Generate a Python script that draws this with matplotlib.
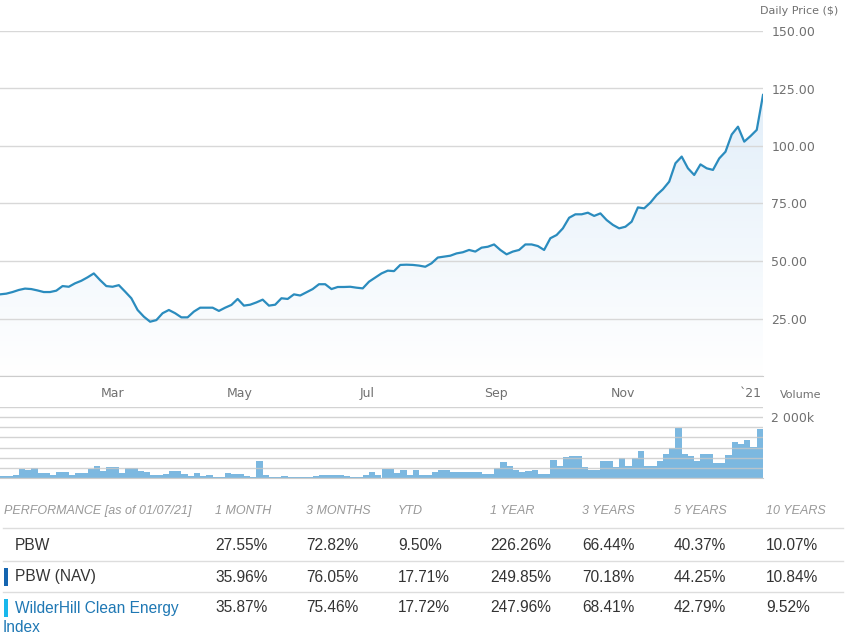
import numpy as np
import pandas as pd
import matplotlib
matplotlib.use('Agg')
import matplotlib.pyplot as plt
import matplotlib.dates as mdates
from matplotlib.colors import LinearSegmentedColormap
from matplotlib.lines import Line2D
from matplotlib.patches import Rectangle

# one reading every 3 calendar days, 07 Jan 2020 .. 07 Jan 2021
dates = pd.date_range('2020-01-07', '2021-01-07', freq='3D')

price = [35.5, 35.8, 36.5, 37.4, 38.0, 37.8, 37.2, 36.5, 36.5, 37.1,
         39.1, 38.8, 40.3, 41.4, 42.9, 44.6, 41.7, 39.1, 38.8, 39.5,
         36.7, 33.8, 28.7, 25.8, 23.6, 24.3, 27.3, 28.7, 27.3, 25.5,
         25.5, 28.0,
         29.7, 29.7, 29.7, 28.3, 29.7, 30.9, 33.5, 30.6, 31.0, 32.0,
         33.2, 30.6, 31.0, 33.8, 33.5, 35.5, 35.0, 36.4, 37.8, 39.9,
         39.9, 37.8, 38.7, 38.7, 38.8, 38.4, 38.1, 41.0, 42.8, 44.6,
         45.8,
         45.6, 48.3, 48.4, 48.3, 48.0, 47.5, 49.0, 51.5, 51.9, 52.3,
         53.3, 53.8, 54.8, 54.1, 55.8, 56.2, 57.2, 54.8, 52.9, 54.1,
         54.8, 57.2, 57.2, 56.5, 54.8, 59.9, 61.3, 64.2, 68.8, 70.3,
         70.3, 71.0, 69.6, 70.7, 67.8, 65.7, 64.2, 64.9, 67.1, 73.3,
         72.9, 75.4, 78.7, 81.2, 84.5, 92.5, 95.4, 90.3, 87.4, 92.0,
         90.3, 89.6, 94.6, 97.5, 105.0, 108.4, 101.9, 104.3, 107.0, 122.2]

# volume in thousands
volume_k = [54, 54, 108, 301, 247, 323, 172, 172, 108, 183,
            183, 108, 151, 151, 301, 409, 237, 376, 376, 151,
            323, 323, 215, 183, 108, 108, 140, 215, 215, 140,
            75, 151, 65, 108, 43, 43, 151, 118, 118, 75,
            22, 570, 108, 43, 43, 75, 32, 32, 32, 32,
            54, 108, 108, 108, 108, 75, 43, 43, 108, 183,
            108, 280, 280, 172,
            247, 108, 247, 86, 86, 194,
            247, 247, 194, 194, 194, 194, 194, 129, 129, 323,
            516, 409, 247, 194, 215, 247, 140, 140, 602, 409,
            677, 710, 710, 376, 247, 247, 559, 559, 376, 645,
            409, 645, 871, 409, 409, 570, 785, 1000, 1645, 785,
            731, 570, 785, 785, 484, 484, 753, 1183, 1108, 1237,
            1032, 1613, 1613]

month_ticks = pd.to_datetime(['2020-03-01', '2020-05-01', '2020-07-01',
                              '2020-09-01', '2020-11-01', '2021-01-01'])
month_labels = ['Mar', 'May', 'Jul', 'Sep', 'Nov', '`21']
price_ticks = [0, 25, 50, 75, 100, 125, 150]
vol_grid_k = [0, 333.3, 666.7, 1000, 1333.3, 1666.7, 2000, 2333.3]

perf_cols = ['1 MONTH', '3 MONTHS', 'YTD', '1 YEAR', '3 YEARS', '5 YEARS', '10 YEARS']
pbw_ret = [27.55, 72.82, 9.50, 226.26, 66.44, 40.37, 10.07]
nav_ret = [35.96, 76.05, 17.71, 249.85, 70.18, 44.25, 10.84]
idx_ret = [35.87, 75.46, 17.72, 247.96, 68.41, 42.79, 9.52]

W, H = 847, 637
LINE = '#2b8cbe'
GRID = '#d8d8d8'
LABEL = '#707070'

fig = plt.figure(figsize=(W / 100, H / 100), dpi=100)


def fx(x):
    return x / W


def fy(y):
    return 1 - y / H


# price panel
ax = fig.add_axes([0, fy(376), fx(763), (376 - 31) / H])
ax.plot(dates, price, color=LINE, lw=1.6, zorder=3)
area = ax.fill_between(dates, price, 0, color='none')
xnum = mdates.date2num(dates)
fade = LinearSegmentedColormap.from_list('fade', ['#ffffff', '#dcebf8'])
grad = np.linspace(1, 0, 256).reshape(-1, 1)
im = ax.imshow(grad, cmap=fade, aspect='auto', origin='upper',
               extent=[xnum[0], xnum[-1], 0, 150], zorder=0)
im.set_clip_path(area.get_paths()[0], transform=ax.transData)

ax.set_xlim(dates[0], dates[-1])
ax.set_ylim(0, 150)
ax.set_yticks(price_ticks)
ax.set_yticklabels([''] + [f'{v:.2f}' for v in price_ticks[1:]])
ax.yaxis.tick_right()
ax.set_xticks(month_ticks)
ax.set_xticklabels(month_labels)
ax.tick_params(axis='both', length=0, colors=LABEL, labelsize=9)
ax.tick_params(axis='y', pad=6)
ax.tick_params(axis='x', pad=8)
ax.grid(axis='y', color=GRID, lw=1)
ax.set_axisbelow(True)
for s in ['top', 'left', 'right']:
    ax.spines[s].set_visible(False)
ax.spines['bottom'].set_color('#cccccc')
ax.set_facecolor('none')

fig.text(fx(838), fy(11), 'Daily Price ($)', ha='right', va='center',
         fontsize=8, color=LABEL)

# volume panel
axv = fig.add_axes([0, fy(478), fx(763), (478 - 407) / H])
axv.bar(dates, volume_k, width=3, align='edge', color='#7cb8e0', lw=0, zorder=1)
axv.set_xlim(dates[0], dates[-1])
axv.set_ylim(0, vol_grid_k[-1])
axv.set_yticks(vol_grid_k)
axv.set_yticklabels(['2 000k' if v == 2000 else '' for v in vol_grid_k])
axv.yaxis.tick_right()
axv.set_xticks([])
axv.tick_params(axis='y', length=0, colors=LABEL, labelsize=9, pad=6)
axv.grid(axis='y', color='#c8c8c8', lw=1, alpha=0.8)
axv.set_axisbelow(False)
for s in ['top', 'left', 'right']:
    axv.spines[s].set_visible(False)
axv.spines['bottom'].set_color('#cccccc')

fig.text(fx(780), fy(395), 'Volume', ha='left', va='center', fontsize=8, color=LABEL)

# performance table
TF = ['Liberation Sans', 'DejaVu Sans']
col_x = [215, 306, 398, 490, 582, 674, 766]
fig.text(fx(4), fy(511), 'PERFORMANCE [as of 01/07/21]', ha='left', va='center',
         fontsize=9, style='italic', color='#999999', family=TF)
for x, c in zip(col_x, perf_cols):
    fig.text(fx(x), fy(511), c, ha='left', va='center', fontsize=9,
             style='italic', color='#999999', family=TF)

for y in [528, 561, 592]:
    fig.add_artist(Line2D([fx(3), fx(843)], [fy(y), fy(y)], color='#dddddd', lw=1))

rows = [('PBW', pbw_ret, 545, '#333333', None),
        ('PBW (NAV)', nav_ret, 577, '#333333', '#1565b0'),
        ('WilderHill Clean Energy', idx_ret, 608, '#1f78b4', '#19b8ec')]
for name, vals, y, ncol, mark in rows:
    fig.text(fx(15), fy(y), name, ha='left', va='center', fontsize=11.2,
             color=ncol, family=TF)
    for x, v in zip(col_x, vals):
        fig.text(fx(x), fy(y), f'{v:.2f}%', ha='left', va='center',
                 fontsize=11.2, color='#333333', family=TF)
    if mark:
        fig.add_artist(Rectangle((fx(4), fy(y + 9)), fx(4), 18 / H,
                                 color=mark, lw=0))
fig.text(fx(3), fy(627), 'Index', ha='left', va='center', fontsize=11.2,
         color='#1f78b4', family=TF)

fig.savefig('out.png', dpi=100)
